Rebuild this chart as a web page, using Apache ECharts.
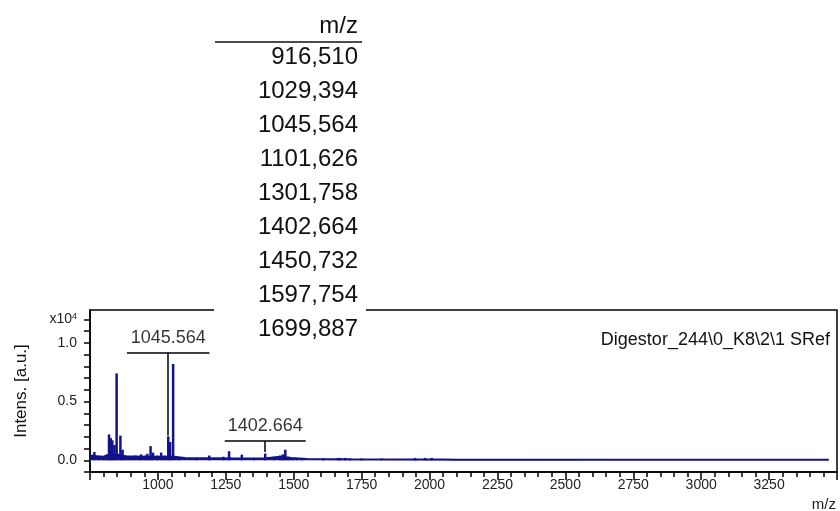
<!DOCTYPE html>
<html>
<head>
<meta charset="utf-8">
<script src="https://cdn.jsdelivr.net/npm/echarts@6/dist/echarts.min.js"></script>
<style>
html,body{margin:0;padding:0;background:#fff;}
#chart{width:840px;height:511px;}
</style>
</head>
<body>
<div id="chart"></div>
<script>
// ---- data (intensity in units of 10^4 a.u.) ----
const tableHeader = 'm/z';
const tableMz = ['916,510','1029,394','1045,564','1101,626','1301,758','1402,664','1450,732','1597,754','1699,887'];

const peakMz = [766,782,797,808,820,826,832,840,848,862,870,880,893,905,918,930,938,952,961,973,982,998,1012,1025,1038,1045,1056,1079,1143,1189,1241,1262,1309,1353,1395,1428,1450,1460,1469,1480,1493,1511,1530,1609,1663,1671,1689,1707,1750,1824,1947,1984,2008];
const peakInt = [0.07,0.035,0.03,0.035,0.22,0.19,0.17,0.13,0.74,0.21,0.09,0.04,0.035,0.03,0.04,0.035,0.05,0.04,0.055,0.12,0.065,0.04,0.065,0.04,0.204,0.155,0.82,0.025,0.02,0.04,0.03,0.077,0.048,0.02,0.057,0.03,0.04,0.05,0.09,0.03,0.02,0.015,0.015,0.018,0.02,0.02,0.02,0.018,0.015,0.015,0.02,0.02,0.02];

const floorMz  = [750,775,800,815,850,880,950,1000,1060,1100,1200,1300,1400,1450,1490,1550,1700,2050,2100,3470];
const floorInt = [0.04,0.035,0.03,0.045,0.05,0.035,0.03,0.03,0.03,0.02,0.018,0.016,0.018,0.03,0.02,0.01,0.008,0.006,0.004,0.004];

const annotations = [
  {name:'1045.564', mz:1038, labelY:1.03, bracketY:0.915, half:152, peakTop:0.21},
  {name:'1402.664', mz:1395, labelY:0.28, bracketY:0.162, half:149, peakTop:0.07}
];

const xMin = 750, xMax = 3500, xStep = 250;
const yMin = -0.1, yMax = 1.28, yStep = 0.1;
const spectrumName = 'Digestor_244\\0_K8\\2\\1 SRef';

const navy = '#12128a';
const peaks = peakMz.map((m,i)=>[m,peakInt[i]]);
const floor = floorMz.map((m,i)=>[m,floorInt[i]]);

const markLines = [];
annotations.forEach(a=>{
  markLines.push([{coord:[a.mz-a.half,a.bracketY]},{coord:[a.mz+a.half,a.bracketY]}]);
  markLines.push([{coord:[a.mz,a.bracketY]},{coord:[a.mz,a.peakTop]}]);
});

const chart = echarts.init(document.getElementById('chart'));
const font = 'Liberation Sans, Arial, sans-serif';

const graphics = [
  {type:'rect', shape:{x:214,y:0,width:152,height:342}, style:{fill:'#fff'}, z:200, silent:true},
  {type:'text', style:{x:358,y:26,text:tableHeader,textAlign:'right',textVerticalAlign:'middle',font:'24px '+font,fill:'#111'}, z:201},
  {type:'line', shape:{x1:215,y1:42,x2:362,y2:42}, style:{stroke:'#111',lineWidth:1.5}, z:201}
];
tableMz.forEach((t,i)=>{
  graphics.push({type:'text', style:{x:358,y:57+34*i,text:t,textAlign:'right',textVerticalAlign:'middle',font:'24px '+font,fill:'#111'}, z:201});
});
graphics.push({type:'text', style:{x:830,y:340,text:spectrumName,textAlign:'right',textVerticalAlign:'middle',font:'18px '+font,fill:'#111'}, z:50});
graphics.push({type:'text', style:{x:836,y:505,text:'m/z',textAlign:'right',textVerticalAlign:'middle',font:'15px '+font,fill:'#222'}, z:50});

chart.setOption({
  animation:false,
  grid:{left:90,right:3,top:310,bottom:39,show:true,borderColor:'#000',borderWidth:1.5},
  xAxis:{
    type:'value', min:xMin, max:xMax, interval:xStep,
    axisLine:{onZero:false,lineStyle:{color:'#000',width:1.5}},
    axisTick:{show:true,length:8,lineStyle:{color:'#000',width:1.5}},
    minorTick:{show:true,splitNumber:5,length:5,lineStyle:{color:'#000',width:1.5}},
    splitLine:{show:false},
    axisLabel:{showMinLabel:false,showMaxLabel:false,color:'#222',fontSize:14,fontFamily:font,margin:6,formatter:v=>String(Math.round(v))}
  },
  yAxis:{
    type:'value', min:yMin, max:yMax, interval:yStep,
    name:'Intens. [a.u.]', nameLocation:'middle', nameGap:60, nameRotate:90,
    nameTextStyle:{color:'#111',fontSize:17,fontFamily:font},
    axisLine:{lineStyle:{color:'#000',width:1.5}},
    axisTick:{show:true,length:6,lineStyle:{color:'#000',width:1.5}},
    splitLine:{show:false},
    axisLabel:{
      color:'#222',fontSize:14,fontFamily:font,margin:13,showMaxLabel:false,
      formatter:v=>{const k=Math.round(v*10); if(k===0)return '0.0'; if(k===5)return '0.5'; if(k===10)return '1.0'; if(k===12)return 'x10{s|4}'; return '';},
      rich:{s:{fontSize:9,verticalAlign:'top',color:'#222',padding:[0,0,6,0]}}
    }
  },
  graphic:graphics,
  series:[
    {type:'line', name:'floor', data:floor, symbol:'none', lineStyle:{color:navy,width:2}, areaStyle:{color:navy,opacity:1}, z:2, silent:true},
    {type:'bar', name:'peaks', data:peaks, barWidth:2.5, itemStyle:{color:navy}, z:3, silent:true,
      markLine:{silent:true,symbol:'none',label:{show:false},lineStyle:{color:'#000',width:1.5,type:'solid'},data:markLines}},
    {type:'scatter', name:'labels', data:annotations.map(a=>({value:[a.mz,a.labelY],name:a.name})), symbolSize:1, itemStyle:{color:'rgba(0,0,0,0)'},
      label:{show:true,position:'top',distance:-8,formatter:p=>p.name,color:'#000',fontSize:18,fontFamily:font}, z:5, silent:true}
  ]
});
</script>
</body>
</html>
